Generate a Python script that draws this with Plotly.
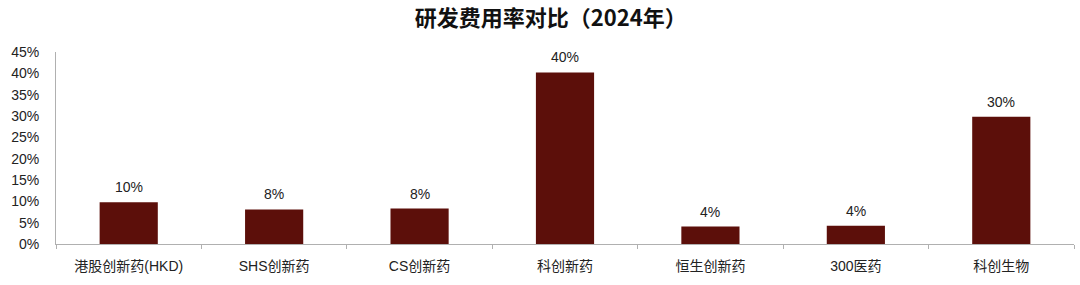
import plotly.graph_objects as go

categories = ["港股创新药(HKD)", "SHS创新药", "CS创新药", "科创新药", "恒生创新药", "300医药", "科创生物"]
values = [0.098, 0.081, 0.083, 0.402, 0.041, 0.043, 0.298]
tick_vals = [0, 0.05, 0.10, 0.15, 0.20, 0.25, 0.30, 0.35, 0.40, 0.45]
tick_text = ["0%", "5%", "10%", "15%", "20%", "25%", "30%", "35%", "40%", "45%"]
title_text = "研发费用率对比（2024年）"

font_family = "Liberation Sans, Arial, Noto Sans CJK SC, sans-serif"

fig = go.Figure(
    go.Bar(
        x=categories,
        y=values,
        width=0.4,
        marker=dict(color="#5C0F0A", line=dict(width=0)),
        cliponaxis=False,
    )
)

for c, v in zip(categories, values):
    fig.add_annotation(
        x=c, y=v, text=f"{v:.0%}", showarrow=False,
        yanchor="bottom", yshift=5,
        font=dict(size=14, color="#222222", family=font_family),
    )

fig.update_layout(
    width=1080,
    height=285,
    margin=dict(l=56, r=6, t=52, b=41),
    paper_bgcolor="white",
    plot_bgcolor="white",
    font=dict(family=font_family, size=14, color="#222222"),
    title=dict(
        text="<b>" + title_text + "</b>",
        x=0.51,
        xanchor="center",
        y=0.935,
        yanchor="middle",
        font=dict(size=22, color="#111111", family="Noto Sans CJK SC, Liberation Sans, sans-serif"),
    ),
    showlegend=False,
    bargap=0.6,
)

fig.update_xaxes(
    type="category",
    showline=True,
    linecolor="#b0b0b0",
    linewidth=1,
    ticks="outside",
    tickson="boundaries",
    ticklen=4,
    tickcolor="#b0b0b0",
    showgrid=False,
    tickfont=dict(size=14, color="#222222", family=font_family),
    ticklabelstandoff=9,
)

fig.update_yaxes(
    range=[0, 0.45],
    tickvals=tick_vals,
    ticktext=tick_text,
    showline=True,
    linecolor="#b0b0b0",
    linewidth=1,
    showgrid=False,
    zeroline=False,
    ticks="",
    tickfont=dict(size=14, color="#222222", family=font_family),
    ticklabelstandoff=13,
)

fig.write_html("out.html")
